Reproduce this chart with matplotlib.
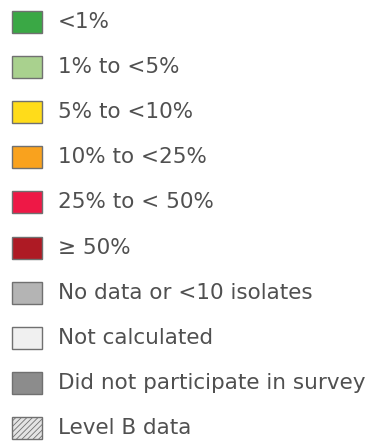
import matplotlib
matplotlib.use("Agg")
import matplotlib.pyplot as plt

labels = ["<1%", "1% to <5%", "5% to <10%", "10% to <25%", "25% to < 50%",
          "\u2265 50%", "No data or <10 isolates", "Not calculated",
          "Did not participate in survey", "Level B data"]
colors = ["#3aa845", "#a9d18e", "#ffdc1a", "#f9a21e", "#ee1846",
          "#ae1a24", "#b4b4b4", "#f0f0f0", "#8c8c8c", "#e4e4e4"]
hatches = ["", "", "", "", "", "", "", "", "", "//////"]

W, H = 384, 441
fig = plt.figure(figsize=(W / 100, H / 100), dpi=100)
ax = fig.add_axes([0, 0, 1, 1])
ax.set_xlim(0, W)
step = 45.2
top = 21.5
ax.set_ylim((H - top) / step, -top / step)
ax.axis("off")

ypos = list(range(len(labels)))
plt.rcParams["hatch.color"] = "#9a9a9a"
plt.rcParams["hatch.linewidth"] = 0.6
bars = ax.barh(ypos, [30] * len(labels), left=12, height=22 / step,
               color=colors, edgecolor="#707070", linewidth=1.0)
for b, h in zip(bars, hatches):
    b.set_hatch(h)

for y, lab in zip(ypos, labels):
    ax.text(58, y, lab, va="center", ha="left", fontsize=15.5,
            family=["DejaVu Sans"], color="#505050")

fig.savefig("out.png", dpi=100)
